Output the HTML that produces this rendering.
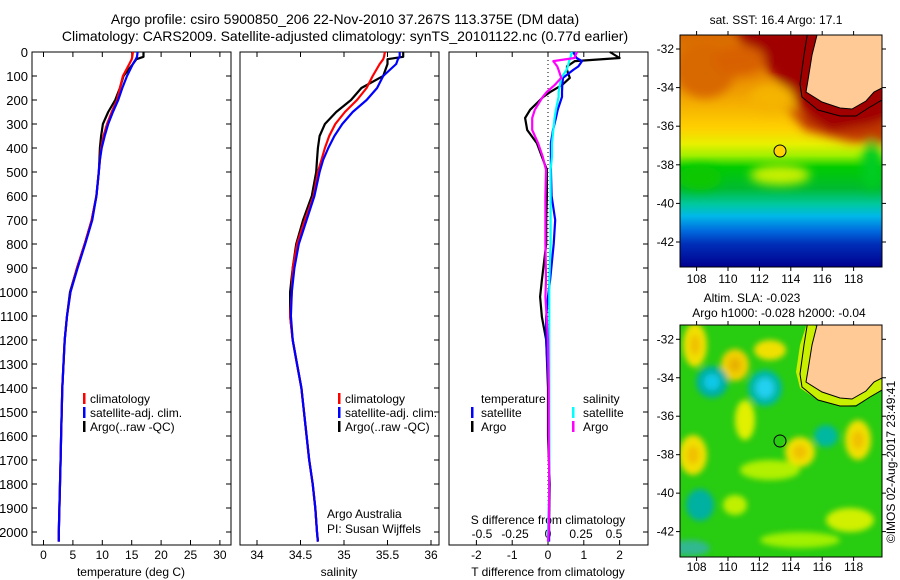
<!DOCTYPE html>
<html><head><meta charset="utf-8"><style>
html,body{margin:0;padding:0;background:#fff;}
svg{display:block;font-family:"Liberation Sans",sans-serif;}
</style></head><body>
<svg id="fig" width="900" height="580" viewBox="0 0 900 580" xmlns="http://www.w3.org/2000/svg">
<defs>
<linearGradient id="sstGrad" x1="0" y1="0" x2="0" y2="1">
<stop offset="0" stop-color="#d86a00"/><stop offset="0.18" stop-color="#e88a00"/>
<stop offset="0.3" stop-color="#f5b000"/><stop offset="0.4" stop-color="#ffd000"/>
<stop offset="0.47" stop-color="#e8f000"/><stop offset="0.52" stop-color="#a0f000"/>
<stop offset="0.57" stop-color="#00cc00"/><stop offset="0.66" stop-color="#00bb30"/>
<stop offset="0.73" stop-color="#00c8a0"/><stop offset="0.78" stop-color="#00b8e8"/>
<stop offset="0.84" stop-color="#0070e0"/><stop offset="0.9" stop-color="#0030b8"/>
<stop offset="1" stop-color="#000090"/>
</linearGradient>
<filter id="blur6"><feGaussianBlur stdDeviation="5"/></filter>
<filter id="blur4"><feGaussianBlur stdDeviation="3"/></filter>
<clipPath id="clipTop"><rect x="680" y="35" width="202" height="232"/></clipPath>
<clipPath id="clipBot"><rect x="680" y="325" width="202" height="232"/></clipPath>
</defs>

<text x="345" y="24" font-size="14" text-anchor="middle">Argo profile: csiro 5900850_206 22-Nov-2010 37.267S 113.375E (DM data)</text>
<text x="345" y="41" font-size="14" text-anchor="middle">Climatology: CARS2009. Satellite-adjusted climatology: synTS_20101122.nc (0.77d earlier)</text>

<g id="axes"></g>
<g id="series"></g>

<g font-size="12">
<rect x="83" y="393" width="2.5" height="11" fill="#f00"/><text x="90" y="403">climatology</text>
<rect x="83" y="407" width="2.5" height="11" fill="#00f"/><text x="90" y="417">satellite-adj. clim.</text>
<rect x="83" y="421" width="2.5" height="11" fill="#000"/><text x="90" y="431">Argo(..raw -QC)</text>
</g>
<g font-size="12">
<rect x="338" y="393" width="2.5" height="11" fill="#f00"/><text x="345" y="403">climatology</text>
<rect x="338" y="407" width="2.5" height="11" fill="#00f"/><text x="345" y="417">satellite-adj. clim.</text>
<rect x="338" y="421" width="2.5" height="11" fill="#000"/><text x="345" y="431">Argo(..raw -QC)</text>
</g>
<g font-size="12">
<text x="481" y="403">temperature</text><text x="583" y="403">salinity</text>
<rect x="471" y="407" width="2.5" height="11" fill="#00f"/><text x="481" y="417">satellite</text>
<rect x="471" y="421" width="2.5" height="11" fill="#000"/><text x="481" y="431">Argo</text>
<rect x="572" y="407" width="2.5" height="11" fill="#0ff"/><text x="583" y="417">satellite</text>
<rect x="572" y="421" width="2.5" height="11" fill="#f0f"/><text x="583" y="431">Argo</text>
</g>
<text x="327" y="518" font-size="12">Argo Australia</text>
<text x="327" y="533" font-size="12">PI: Susan Wijffels</text>

<g>
<g clip-path="url(#clipTop)">
<rect x="680" y="35" width="202" height="232" fill="url(#sstGrad)"/>
<g filter="url(#blur6)">
<path d="M735,28 L890,28 L890,125 L860,130 L830,132 L812,122 L800,108 L790,92 L775,78 L760,60 L745,48 Z" fill="#a00000"/>
<path d="M780,100 L800,112 L830,132 L870,125 L890,118 L890,145 L850,142 L805,130 Z" fill="#c03800"/>
<ellipse cx="705" cy="70" rx="30" ry="28" fill="#d86800"/>
<ellipse cx="740" cy="60" rx="25" ry="15" fill="#d86000"/>
<ellipse cx="772" cy="98" rx="22" ry="14" fill="#f5b400"/>
<ellipse cx="700" cy="178" rx="22" ry="12" fill="#10c800"/>
<ellipse cx="780" cy="175" rx="30" ry="10" fill="#c8f000"/>
<ellipse cx="872" cy="165" rx="10" ry="25" fill="#00cc20"/>
</g>
<path d="M817,35 L812,55 L808,80 L806,92 L822,102 L840,108 L852,109 L866,101 L874,92 L882,88 L882,35 Z" fill="#ffca96" stroke="#000" stroke-width="1"/>
<path d="M808,30 L804,55 L800,84 L802,97 L818,110 L840,116 L856,116 L870,107 L882,100" fill="none" stroke="#000" stroke-width="1"/>
</g>
<rect x="680" y="35" width="202" height="232" fill="none" stroke="#000" stroke-width="1"/>
<circle cx="780" cy="151" r="6" fill="#ffd400" stroke="#000" stroke-width="1"/>
<text x="776" y="24" font-size="12" text-anchor="middle">sat. SST: 16.4 Argo: 17.1</text>
</g>

<g>
<g clip-path="url(#clipBot)">
<rect x="680" y="325" width="202" height="232" fill="#28cc10"/>
<g filter="url(#blur4)">
<ellipse cx="695" cy="345" rx="12" ry="22" fill="#f0e000"/>
<ellipse cx="695" cy="345" rx="5" ry="10" fill="#f0c000"/>
<ellipse cx="735" cy="365" rx="14" ry="16" fill="#f0d000"/>
<ellipse cx="735" cy="365" rx="6" ry="7" fill="#e8b000"/>
<ellipse cx="770" cy="350" rx="16" ry="10" fill="#f0e000"/>
<ellipse cx="712" cy="382" rx="16" ry="16" fill="#00b0a0"/>
<ellipse cx="712" cy="382" rx="8" ry="8" fill="#10c8e8"/>
<ellipse cx="765" cy="388" rx="17" ry="18" fill="#00b8a8"/>
<ellipse cx="765" cy="388" rx="9" ry="10" fill="#20d0f0"/>
<ellipse cx="745" cy="420" rx="10" ry="20" fill="#e0f000"/>
<ellipse cx="693" cy="455" rx="14" ry="20" fill="#f0e000"/>
<ellipse cx="693" cy="455" rx="6" ry="9" fill="#f0c000"/>
<ellipse cx="800" cy="452" rx="15" ry="15" fill="#f0e000"/>
<ellipse cx="800" cy="452" rx="7" ry="7" fill="#f0c000"/>
<ellipse cx="858" cy="440" rx="13" ry="20" fill="#f0e000"/>
<ellipse cx="858" cy="440" rx="6" ry="9" fill="#f0c000"/>
<ellipse cx="826" cy="436" rx="12" ry="11" fill="#00b8a0"/>
<ellipse cx="700" cy="505" rx="14" ry="16" fill="#00b0a0"/>
<ellipse cx="770" cy="470" rx="30" ry="10" fill="#b0f000"/>
<ellipse cx="850" cy="520" rx="24" ry="12" fill="#d0f000"/>
<ellipse cx="735" cy="505" rx="12" ry="10" fill="#c0f000"/>
<ellipse cx="690" cy="548" rx="20" ry="8" fill="#30b890"/>
<ellipse cx="800" cy="540" rx="40" ry="8" fill="#a0f000"/>
</g>
<path d="M808,320 L800,345 L796,372 L800,388 L818,400 L840,406 L856,405 L870,397 L882,390 L882,380" fill="#c8f000" stroke="none"/>
<path d="M817,325 L812,345 L808,370 L806,382 L822,392 L840,398 L852,399 L866,391 L874,382 L882,378 L882,325 Z" fill="#ffca96" stroke="#000" stroke-width="1"/>
<path d="M808,320 L804,345 L800,374 L802,387 L818,400 L840,406 L856,406 L870,397 L882,390" fill="none" stroke="#000" stroke-width="1"/>
</g>
<rect x="680" y="325" width="202" height="232" fill="none" stroke="#000" stroke-width="1"/>
<circle cx="780" cy="441" r="6" fill="none" stroke="#000" stroke-width="1"/>
<text x="752" y="302" font-size="12" text-anchor="middle">Altim. SLA: -0.023</text>
<text x="779" y="317" font-size="12" text-anchor="middle">Argo h1000: -0.028 h2000: -0.04</text>
</g>
<text transform="translate(895,462) rotate(-90)" font-size="12" text-anchor="middle">©IMOS 02-Aug-2017 23:49:41</text>
<g id="mapaxes"></g>
</svg>
<script>
const depthProfile = [0,20,30,50,100,150,200,250,300,350,400,450,500,600,700,800,900,1000,1100,1200,1300,1400,1500,1600,1700,1800,1900,2000,2040];
const tempArgo = [17.0,17.0,15.8,15.2,13.6,13.0,12.2,11.0,10.1,9.8,9.6,9.5,9.4,9.0,8.2,7.0,5.7,4.5,4.0,3.6,3.4,3.2,3.1,3.0,2.9,2.8,2.7,2.6,2.6];
const tempClim = [15.2,15.1,15.0,14.6,13.5,13.0,12.5,11.6,10.8,10.2,9.8,9.6,9.4,9.0,8.2,7.0,5.7,4.6,4.0,3.6,3.4,3.2,3.1,3.0,2.9,2.8,2.7,2.6,2.6];
const tempSat = [16.0,15.9,15.7,15.2,14.2,13.4,12.7,11.8,11.0,10.4,9.9,9.6,9.4,9.0,8.3,7.1,5.8,4.6,4.0,3.6,3.4,3.2,3.1,3.0,2.9,2.8,2.7,2.6,2.6];
const salArgo = [35.68,35.68,35.5,35.5,35.45,35.2,35.08,34.91,34.78,34.72,34.70,34.69,34.68,34.63,34.53,34.45,34.41,34.38,34.38,34.41,34.46,34.51,34.54,34.57,34.60,34.64,34.67,34.69,34.70];
const salClim = [35.47,35.46,35.45,35.41,35.33,35.26,35.15,35.01,34.90,34.83,34.78,34.74,34.70,34.65,34.55,34.46,34.41,34.40,34.38,34.41,34.46,34.51,34.54,34.57,34.60,34.64,34.67,34.69,34.70];
const salSat = [35.64,35.64,35.62,35.60,35.45,35.38,35.26,35.10,34.98,34.89,34.82,34.76,34.72,34.66,34.57,34.48,34.43,34.40,34.39,34.41,34.46,34.51,34.54,34.57,34.60,34.64,34.67,34.69,34.70];
const depthDiff = [0,25,38,60,75,108,138,167,187,241,275,325,380,436,491,600,700,800,950,1020,1104,1200,1400,1600,1800,2000,2040];
const tdiffArgo = [1.73,2.0,0.75,0.53,0.53,0.61,0.39,0.06,-0.13,-0.5,-0.64,-0.58,-0.31,-0.17,-0.03,-0.03,-0.05,-0.05,-0.17,-0.22,-0.17,-0.05,0.0,0.0,0.05,0.02,0.0];
const tdiffSat = [0.7,0.8,0.95,0.85,0.7,0.42,0.4,0.39,0.39,0.27,0.22,0.14,0.08,0.08,0.08,0.1,0.2,0.16,0.06,0.0,-0.05,-0.05,0.02,0.03,0.03,0.03,0.03];
const sdiffArgo = [0.22,0.2,0.04,0.07,0.08,0.1,0.05,-0.01,-0.04,-0.1,-0.12,-0.12,-0.075,-0.04,-0.015,-0.02,-0.02,-0.02,-0.015,-0.02,-0.01,0.0,0.005,0.005,0.01,0.005,0.0];
const sdiffSat = [0.18,0.17,0.16,0.15,0.14,0.1,0.09,0.08,0.08,0.06,0.05,0.04,0.03,0.03,0.02,0.02,0.02,0.02,0.01,0.01,0.01,0.01,0.01,0.01,0.01,0.0,0.0];
const depthTicks = [0,100,200,300,400,500,600,700,800,900,1000,1100,1200,1300,1400,1500,1600,1700,1800,1900,2000];
const tempTicks = [0,5,10,15,20,25,30];
const salTicks = [34,34.5,35,35.5,36];
const tdiffTicks = [-2,-1,0,1,2];
const sdiffTicks = [-0.5,-0.25,0,0.25,0.5];
const lonTicks = [108,110,112,114,116,118];
const latTicks = [-32,-34,-36,-38,-40,-42];

const NS = "http://www.w3.org/2000/svg";
const TOP = 52, BOT = 545;
const yD = d => TOP + d * 0.24;
const xT = t => 43.5 + t * 5.88;
const xS = s => 257 + (s - 34) * 87;
const xTd = v => 548 + v * 35.8;
const xSd = v => 548 + v * 132;
const lonX = l => 696.6 + (l - 108) * 15.7;
const latYTop = la => 49 + (-32 - la) * 19.3;
const latYBot = la => 339.3 + (-32 - la) * 19.23;
const panels = [[32,231],[240,439],[449,648]];

function mk(tag, attrs, parent, text) {
  const e = document.createElementNS(NS, tag);
  for (const k in attrs) e.setAttribute(k, attrs[k]);
  if (text !== undefined) e.textContent = text;
  parent.appendChild(e);
  return e;
}
const axes = document.getElementById('axes');
const series = document.getElementById('series');

panels.forEach((p, i) => {
  const r = mk('rect', {x:p[0], y:TOP, width:p[1]-p[0], height:BOT-TOP, fill:'none', stroke:'#000', 'stroke-width':1}, axes);
  
  
  depthTicks.forEach(d => {
    mk('line', {x1:p[1]-5, x2:p[1], y1:yD(d), y2:yD(d), stroke:'#000'}, axes);
    if (i === 0) mk('line', {x1:p[0], x2:p[0]+5, y1:yD(d), y2:yD(d), stroke:'#000'}, axes);
  });
});
depthTicks.forEach(d => {
  const t = mk('text', {x:28, y:yD(d)+5, 'font-size':13, 'text-anchor':'end'}, axes, String(d));
  
  
});
function xTicks(ticks, fx, labelY, withTop) {
  ticks.forEach(v => {
    const x = fx(v);
    mk('line', {x1:x, x2:x, y1:BOT, y2:BOT-5, stroke:'#000'}, axes);
    if (withTop) mk('line', {x1:x, x2:x, y1:TOP, y2:TOP+5, stroke:'#000'}, axes);
    const t = mk('text', {x:x, y:labelY, 'font-size':12, 'text-anchor':'middle'}, axes, String(v));
    
    
  });
}
xTicks(tempTicks, xT, 559, true);
xTicks(salTicks, xS, 559, true);
xTicks(tdiffTicks, xTd, 559, true);
sdiffTicks.forEach(v => {
  const t = mk('text', {x:xSd(v), y:538, 'font-size':12, 'text-anchor':'middle'}, axes, String(v));
  
  
});
[['temperature (deg C)',131,'temperature-axis-title'],['salinity',339,'salinity-axis-title'],['T difference from climatology',548,'t-diff-axis-title']].forEach(a => {
  const t = mk('text', {x:a[1], y:576, 'font-size':12, 'text-anchor':'middle'}, axes, a[0]);
  
  
});
const sd = mk('text', {x:548, y:524, 'font-size':12, 'text-anchor':'middle'}, axes, 'S difference from climatology');


const z = mk('line', {x1:548, x2:548, y1:TOP, y2:BOT, stroke:'#000', 'stroke-dasharray':'1,3'}, axes);



function drawLine(vals, depths, fx, color, name) {
  const pts = vals.map((v, k) => fx(v).toFixed(1) + ',' + yD(depths[k]).toFixed(1)).join(' ');
  const pl = mk('polyline', {points:pts, fill:'none', stroke:color, 'stroke-width':2.2, 'stroke-linejoin':'round'}, series);
  
  
}
drawLine(tempArgo, depthProfile, xT, '#000', 'temperature-argo-line');
drawLine(tempClim, depthProfile, xT, '#f00', 'temperature-climatology-line');
drawLine(tempSat, depthProfile, xT, '#00f', 'temperature-satellite-line');
drawLine(salArgo, depthProfile, xS, '#000', 'salinity-argo-line');
drawLine(salClim, depthProfile, xS, '#f00', 'salinity-climatology-line');
drawLine(salSat, depthProfile, xS, '#00f', 'salinity-satellite-line');
drawLine(tdiffArgo, depthDiff, xTd, '#000', 't-diff-argo-line');
drawLine(tdiffSat, depthDiff, xTd, '#00f', 't-diff-satellite-line');
drawLine(sdiffSat, depthDiff, xSd, '#0ff', 's-diff-satellite-line');
drawLine(sdiffArgo, depthDiff, xSd, '#f0f', 's-diff-argo-line');

const ma = document.getElementById('mapaxes');
[[35,267,latYTop,283],[325,557,latYBot,571]].forEach(m => {
  lonTicks.forEach(l => {
    const x = lonX(l);
    mk('line', {x1:x, x2:x, y1:m[0]-4, y2:m[0], stroke:'#000'}, ma);
    mk('line', {x1:x, x2:x, y1:m[1], y2:m[1]+4, stroke:'#000'}, ma);
    const t = mk('text', {x:x, y:m[3], 'font-size':12, 'text-anchor':'middle'}, ma, String(l));
    
    
  });
  latTicks.forEach(la => {
    const y = m[2](la);
    mk('line', {x1:676, x2:680, y1:y, y2:y, stroke:'#000'}, ma);
    mk('line', {x1:882, x2:886, y1:y, y2:y, stroke:'#000'}, ma);
    const t = mk('text', {x:674, y:y+4, 'font-size':12, 'text-anchor':'end'}, ma, String(la));
    
    
  });
});
</script>
</body></html>
